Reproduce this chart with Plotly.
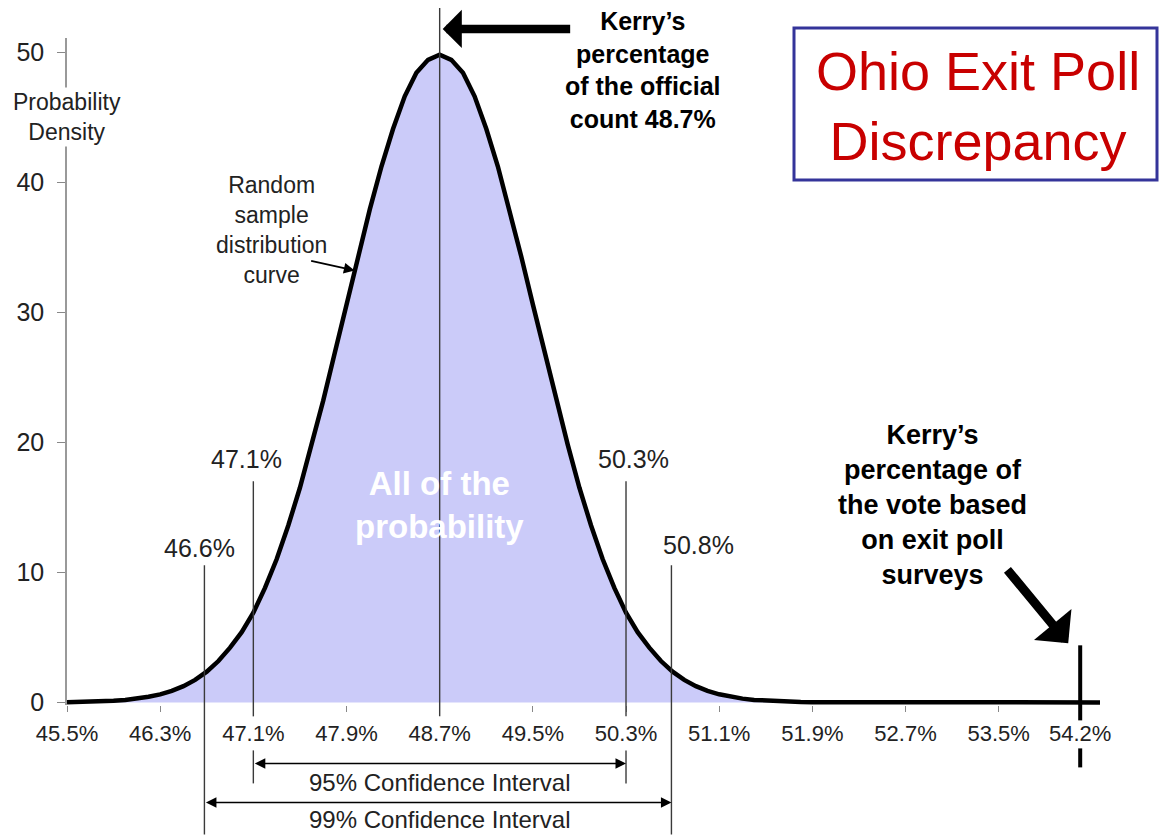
import plotly.graph_objects as go

# ---------------- data ----------------
X_TICKS = [45.5, 46.3, 47.1, 47.9, 48.7, 49.5, 50.3, 51.1, 51.9, 52.7, 53.5, 54.2]
Y_TICKS = [0, 10, 20, 30, 40, 50]

CURVE_X = [round(45.5 + 0.1 * i, 1) for i in range(65)]   # 45.5 ... 51.9
CURVE_Y = [0.02, 0.03, 0.05, 0.08, 0.13, 0.19, 0.29, 0.43, 0.62, 0.88,
           1.25, 1.73, 2.36, 3.18, 4.21, 5.40, 6.90, 8.80, 11.0, 13.6,
           16.5, 19.8, 23.2, 26.9, 30.6, 34.3, 37.9, 41.2, 44.1, 46.6,
           48.4, 49.4, 49.8,
           49.4, 48.4, 46.6, 44.1, 41.2, 37.9, 34.3, 30.6, 26.9, 23.2,
           19.8, 16.5, 13.6, 11.0, 8.80, 6.90, 5.40, 4.21, 3.18, 2.36,
           1.73, 1.25, 0.88, 0.62, 0.43, 0.29, 0.19, 0.13, 0.08, 0.05,
           0.03, 0.02]

OFFICIAL = 48.7          # Kerry's official count
EXIT_POLL = 54.2         # Kerry's exit-poll estimate
CI95 = [47.1, 50.3]
CI99 = [46.6, 50.8]
CI99_DRAWN = [46.68, 50.69]   # where the 99% lines sit in the picture
X_RANGE = [45.5, 54.37]
Y_RANGE = [-0.2, 51.08]

# ---------------- geometry helpers ----------------
W, H = 1164, 835
ML, MR, MT = 67, 64, 38
PLOT_W = W - ML - MR
PX_PER_Y = 13
PLOT_H = (Y_RANGE[1] - Y_RANGE[0]) * PX_PER_Y
MB = H - MT - PLOT_H


def px(p):
    return (p - ML) / PLOT_W


def py(p):
    return (MT + PLOT_H - p) / PLOT_H


FONT = "Arial, Liberation Sans, sans-serif"
TXT = "#222222"
LINE = "#3a3a3a"
C = dict(xanchor="center", yanchor="middle")

fig = go.Figure()
fig.add_trace(go.Scatter(
    x=CURVE_X + [X_RANGE[1]], y=CURVE_Y + [0],
    mode="lines", line=dict(color="black", width=4.5),
    fill="tozeroy", fillcolor="#cbcbf9", hoverinfo="skip", cliponaxis=False,
))

shapes = []
# official count line
shapes.append(dict(type="line", xref="x", yref="paper", x0=OFFICIAL, x1=OFFICIAL,
                   y0=py(716), y1=py(8), line=dict(color=LINE, width=1.4), layer="above"))
# 95% lines (upper part + part below tick labels)
for v in CI95:
    shapes.append(dict(type="line", xref="x", yref="paper", x0=v, x1=v,
                       y0=py(716), y1=py(481), line=dict(color=LINE, width=1.4), layer="above"))
    shapes.append(dict(type="line", xref="x", yref="paper", x0=v, x1=v,
                       y0=py(750), y1=py(783), line=dict(color=LINE, width=1.4), layer="above"))
# 99% lines
for v in CI99_DRAWN:
    shapes.append(dict(type="line", xref="x", yref="paper", x0=v, x1=v,
                       y0=py(565), y1=py(834), line=dict(color=LINE, width=1.4), layer="above"))
# exit-poll marker (thick, broken by the tick label)
shapes.append(dict(type="line", xref="x", yref="paper", x0=EXIT_POLL, x1=EXIT_POLL,
                   y0=py(645), y1=py(720), line=dict(color="black", width=4), layer="above"))
shapes.append(dict(type="line", xref="x", yref="paper", x0=EXIT_POLL, x1=EXIT_POLL,
                   y0=py(748), y1=py(767), line=dict(color="black", width=4), layer="above"))
# title box
shapes.append(dict(type="rect", xref="paper", yref="paper", x0=px(794), x1=px(1157),
                   y0=py(180), y1=py(28), line=dict(color="#34349a", width=3),
                   fillcolor="white", layer="below"))

ann = []
# title
ann.append(dict(xref="paper", yref="paper", x=px(978), y=py(106), showarrow=False,
                text="Ohio Exit Poll<br>Discrepancy", align="center", **C,
                font=dict(family=FONT, size=54, color="#c80000")))
# y axis title
ann.append(dict(xref="paper", yref="paper", x=px(67), y=py(117), showarrow=False,
                text="Probability<br>Density", align="center", bgcolor="white", **C,
                font=dict(family=FONT, size=23, color=TXT)))
# official count arrow + text
ann.append(dict(xref="x", yref="paper", x=OFFICIAL, y=py(29), xshift=3,
                ax=129, ay=0, axref="pixel", ayref="pixel", text="", showarrow=True,
                arrowhead=1, arrowsize=0.75, arrowwidth=8.5, arrowcolor="black", standoff=0))
ann.append(dict(xref="paper", yref="paper", x=px(643), y=py(70), showarrow=False,
                text=f"Kerry’s<br>percentage<br>of the official<br>count {OFFICIAL}%",
                align="center", **C,
                font=dict(family=FONT, size=25, color="black", weight="bold")))
# random sample curve note
ann.append(dict(xref="paper", yref="paper", x=px(271), y=py(230), showarrow=False,
                text="Random<br>sample<br>distribution<br>curve", align="center", **C,
                font=dict(family=FONT, size=23, color=TXT)))
ann.append(dict(xref="x", yref="y", x=47.97, y=33.2, ax=-45, ay=-10, text="",
                showarrow=True, arrowhead=2, arrowsize=1.2, arrowwidth=1.8,
                arrowcolor="black", standoff=0))
# inside text
ann.append(dict(xref="x", yref="paper", x=OFFICIAL, y=py(505), showarrow=False,
                text="All of the<br>probability", align="center", **C,
                font=dict(family=FONT, size=33, color="white", weight="bold")))
# percent labels
PCT_FONT = dict(family=FONT, size=25, color=TXT)
ann.append(dict(xref="x", yref="paper", x=CI95[0], xshift=-7, y=py(459), showarrow=False,
                text=f"{CI95[0]}%", font=PCT_FONT, **C))
ann.append(dict(xref="x", yref="paper", x=CI95[1], xshift=7, y=py(459), showarrow=False,
                text=f"{CI95[1]}%", font=PCT_FONT, **C))
ann.append(dict(xref="x", yref="paper", x=CI99_DRAWN[0], xshift=-5, y=py(548), showarrow=False,
                text=f"{CI99[0]}%", font=PCT_FONT, **C))
ann.append(dict(xref="x", yref="paper", x=CI99_DRAWN[1], xshift=27, y=py(545), showarrow=False,
                text=f"{CI99[1]}%", font=PCT_FONT, **C))
# confidence interval arrows
for lo, hi, ypix, typix, label in [(CI95[0], CI95[1], 763, 782, "95% Confidence Interval"),
                                   (CI99_DRAWN[0], CI99_DRAWN[1], 802, 819, "99% Confidence Interval")]:
    ann.append(dict(xref="x", yref="paper", x=hi, y=py(ypix), axref="x", ax=lo,
                    ayref="pixel", ay=0, text="", showarrow=True, arrowside="end+start",
                    arrowhead=2, startarrowhead=2, arrowsize=1.4, startarrowsize=1.4,
                    arrowwidth=1.5, arrowcolor="black", standoff=0, startstandoff=0))
    ann.append(dict(xref="x", yref="paper", x=(CI95[0] + CI95[1]) / 2, y=py(typix),
                    showarrow=False, text=label, **C,
                    font=dict(family=FONT, size=24, color=TXT)))
# exit poll text + arrow
ann.append(dict(xref="paper", yref="paper", x=px(932), y=py(505), showarrow=False,
                text="Kerry’s<br>percentage of<br>the vote based<br>on exit poll<br>surveys",
                align="center", **C,
                font=dict(family=FONT, size=27, color="black", weight="bold")))
ann.append(dict(xref="x", yref="paper", x=EXIT_POLL, xshift=-12, y=py(643),
                ax=-62, ay=-75, text="", showarrow=True, arrowhead=1, arrowsize=0.9,
                arrowwidth=9, arrowcolor="black", standoff=0))

fig.update_layout(
    width=W, height=H,
    margin=dict(l=ML, r=MR, t=MT, b=MB, pad=0),
    paper_bgcolor="white", plot_bgcolor="white",
    showlegend=False, template="none",
    shapes=shapes, annotations=ann,
    xaxis=dict(range=X_RANGE, tickvals=X_TICKS, ticktext=[f"{v}%" for v in X_TICKS],
               ticks="outside", ticklen=6, tickwidth=1, tickcolor="#888",
               showline=False, showgrid=False, zeroline=False, automargin=False,
               ticklabelstandoff=3,
               tickfont=dict(family=FONT, size=22, color=TXT)),
    yaxis=dict(range=Y_RANGE, tickvals=Y_TICKS, ticks="outside", ticklen=8, tickwidth=1,
               tickcolor="#888", showline=True, linecolor="#999", linewidth=1.5,
               showgrid=False, zeroline=False, automargin=False, ticklabelstandoff=8,
               tickfont=dict(family=FONT, size=25, color=TXT)),
)

fig.write_html("out.html", config={"displayModeBar": False},
               post_script="document.body.style.margin='0';document.body.style.overflow='hidden';")
